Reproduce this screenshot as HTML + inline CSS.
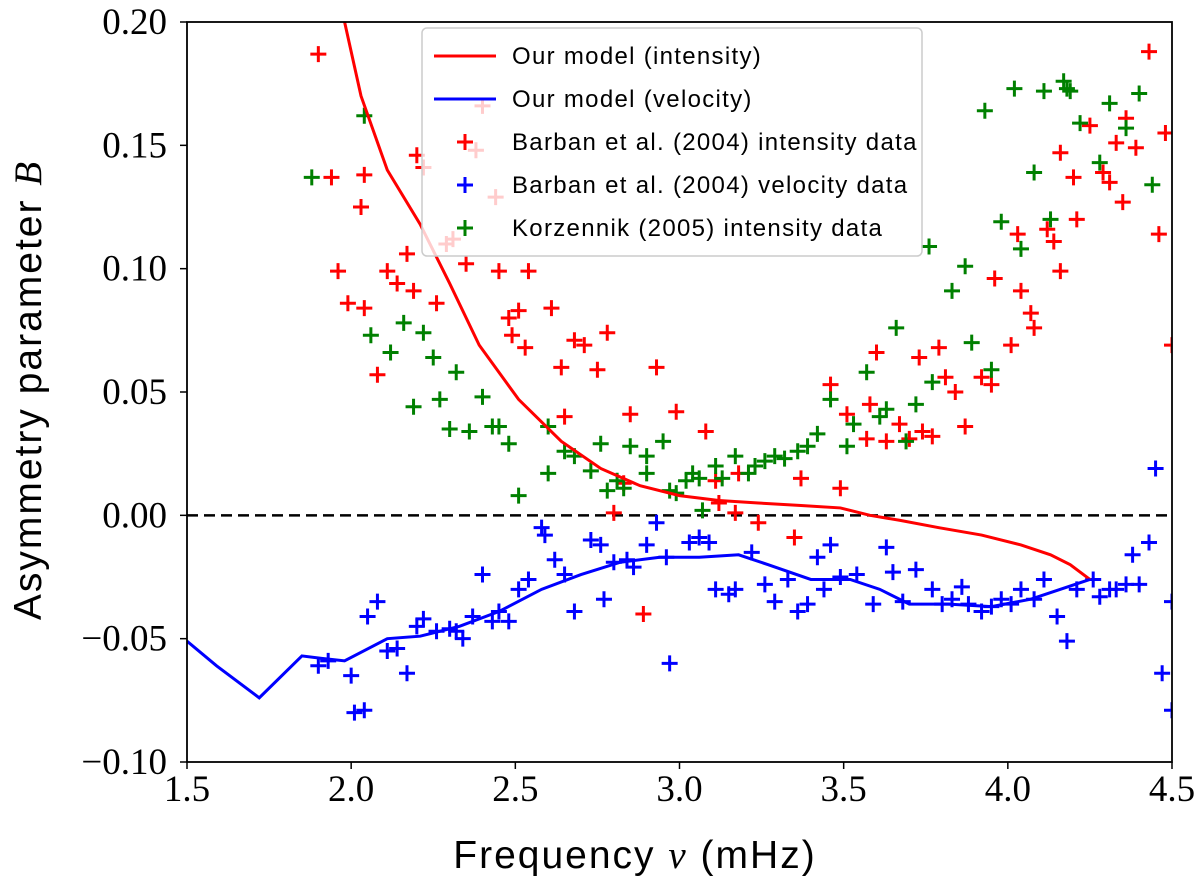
<!DOCTYPE html>
<html><head><meta charset="utf-8">
<style>
html,body{margin:0;padding:0;background:#fff;}
svg{display:block;}
text{font-family:"Liberation Serif",serif;}
.lg{font-family:"Liberation Sans",sans-serif;font-size:24px;letter-spacing:1.3px;}
.tt{font-family:"Liberation Sans",sans-serif;font-size:39px;letter-spacing:2px;}
.tt tspan{font-family:"Liberation Serif",serif;font-style:italic;}
</style></head>
<body>
<svg id="chart" width="1200" height="886" viewBox="0 0 1200 886">
<defs><clipPath id="clip"><rect x="187" y="22" width="985" height="740"/></clipPath></defs>
<g id="marks" clip-path="url(#clip)"></g>
<g id="axes"></g>
<g id="legend"></g>
</svg>
<script>
const xTicks=[1.5,2.0,2.5,3.0,3.5,4.0,4.5];
const xTickLabels=["1.5","2.0","2.5","3.0","3.5","4.0","4.5"];
const yTicks=[-0.10,-0.05,0,0.05,0.10,0.15,0.20];
const yTickLabels=["\u22120.10","\u22120.05","0.00","0.05","0.10","0.15","0.20"];
const redX=[1.90,1.94,1.96,1.99,2.03,2.04,2.04,2.08,2.11,2.14,2.17,2.19,2.20,2.22,2.26,2.29,2.31,2.35,2.38,2.40,2.44,2.45,2.48,2.49,2.51,2.53,2.54,2.61,2.64,2.65,2.68,2.71,2.75,2.78,2.80,2.83,2.85,2.93,2.89,2.99,3.08,3.11,3.12,3.17,3.18,3.24,3.35,3.37,3.46,3.49,3.51,3.57,3.58,3.60,3.63,3.67,3.70,3.73,3.74,3.77,3.79,3.81,3.84,3.87,3.92,3.95,3.96,4.01,4.03,4.04,4.07,4.08,4.12,4.14,4.16,4.16,4.20,4.21,4.25,4.29,4.31,4.33,4.35,4.36,4.39,4.43,4.46,4.48,4.50];
const redY=[0.187,0.137,0.099,0.086,0.125,0.138,0.084,0.057,0.099,0.094,0.106,0.091,0.146,0.141,0.086,0.110,0.112,0.102,0.148,0.166,0.129,0.099,0.080,0.073,0.083,0.068,0.099,0.084,0.060,0.040,0.071,0.069,0.059,0.074,0.001,0.013,0.041,0.060,-0.040,0.042,0.034,0.014,0.005,0.001,0.017,-0.003,-0.009,0.015,0.053,0.011,0.041,0.031,0.045,0.066,0.030,0.037,0.031,0.064,0.034,0.032,0.068,0.056,0.050,0.036,0.056,0.053,0.096,0.069,0.114,0.091,0.082,0.076,0.116,0.111,0.147,0.099,0.137,0.120,0.158,0.139,0.135,0.151,0.127,0.161,0.149,0.188,0.114,0.155,0.069];
const greenX=[1.88,2.04,2.06,2.12,2.16,2.19,2.22,2.25,2.27,2.30,2.32,2.36,2.40,2.43,2.45,2.48,2.51,2.60,2.60,2.65,2.68,2.73,2.76,2.78,2.81,2.83,2.85,2.90,2.90,2.95,2.97,2.99,3.02,3.04,3.06,3.07,3.11,3.13,3.17,3.21,3.23,3.26,3.29,3.32,3.36,3.39,3.42,3.46,3.51,3.53,3.57,3.61,3.63,3.66,3.69,3.72,3.76,3.77,3.83,3.87,3.89,3.93,3.95,3.98,4.02,4.04,4.08,4.11,4.13,4.17,4.18,4.19,4.22,4.28,4.31,4.36,4.40,4.44];
const greenY=[0.137,0.162,0.073,0.066,0.078,0.044,0.074,0.064,0.047,0.035,0.058,0.034,0.048,0.036,0.036,0.029,0.008,0.017,0.036,0.026,0.024,0.018,0.029,0.010,0.014,0.011,0.028,0.024,0.017,0.030,0.010,0.009,0.014,0.017,0.015,0.002,0.020,0.015,0.024,0.017,0.020,0.022,0.024,0.023,0.026,0.028,0.033,0.047,0.028,0.037,0.058,0.040,0.043,0.076,0.030,0.045,0.109,0.054,0.091,0.101,0.070,0.164,0.059,0.119,0.173,0.108,0.139,0.172,0.120,0.176,0.173,0.172,0.159,0.143,0.167,0.157,0.171,0.134];
const blueX=[1.90,1.93,2.00,2.01,2.04,2.05,2.08,2.11,2.14,2.17,2.20,2.22,2.26,2.30,2.32,2.34,2.37,2.40,2.43,2.45,2.48,2.51,2.54,2.58,2.59,2.62,2.65,2.68,2.73,2.76,2.77,2.80,2.84,2.86,2.90,2.93,2.96,2.97,3.03,3.06,3.09,3.11,3.15,3.17,3.22,3.26,3.29,3.33,3.36,3.39,3.42,3.44,3.46,3.49,3.54,3.59,3.63,3.65,3.68,3.72,3.77,3.80,3.83,3.86,3.88,3.92,3.95,3.98,4.01,4.04,4.08,4.11,4.15,4.18,4.21,4.26,4.28,4.31,4.33,4.36,4.38,4.40,4.43,4.45,4.47,4.50,4.50];
const blueY=[-0.061,-0.059,-0.065,-0.080,-0.079,-0.041,-0.035,-0.055,-0.054,-0.064,-0.045,-0.042,-0.047,-0.046,-0.047,-0.050,-0.041,-0.024,-0.043,-0.039,-0.043,-0.030,-0.026,-0.005,-0.008,-0.018,-0.024,-0.039,-0.010,-0.012,-0.034,-0.019,-0.018,-0.021,-0.012,-0.003,-0.017,-0.060,-0.011,-0.009,-0.011,-0.030,-0.032,-0.030,-0.015,-0.028,-0.035,-0.026,-0.039,-0.036,-0.017,-0.030,-0.012,-0.025,-0.024,-0.036,-0.013,-0.023,-0.035,-0.022,-0.030,-0.036,-0.034,-0.029,-0.036,-0.039,-0.037,-0.034,-0.036,-0.030,-0.034,-0.026,-0.041,-0.051,-0.030,-0.026,-0.033,-0.030,-0.030,-0.028,-0.016,-0.028,-0.011,0.019,-0.064,-0.035,-0.079];
const modelIntX=[1.98,2.03,2.11,2.21,2.30,2.39,2.51,2.64,2.76,2.88,3.00,3.12,3.24,3.37,3.49,3.58,3.67,3.79,3.92,4.04,4.13,4.19,4.25];
const modelIntY=[0.200,0.170,0.140,0.118,0.094,0.069,0.047,0.030,0.019,0.012,0.008,0.006,0.005,0.004,0.003,0.000,-0.002,-0.005,-0.008,-0.012,-0.016,-0.020,-0.026];
const modelVelX=[1.50,1.59,1.72,1.85,1.91,1.98,2.11,2.21,2.33,2.45,2.58,2.70,2.82,2.94,3.06,3.18,3.27,3.40,3.52,3.61,3.70,3.82,3.95,4.07,4.16,4.25];
const modelVelY=[-0.051,-0.061,-0.074,-0.057,-0.058,-0.059,-0.050,-0.049,-0.045,-0.039,-0.030,-0.024,-0.019,-0.017,-0.017,-0.016,-0.020,-0.026,-0.026,-0.030,-0.036,-0.036,-0.037,-0.034,-0.030,-0.026];

const X0=187,X1=1172,Y0=762,Y1=22;
const sx=v=>X0+(v-1.5)/3*(X1-X0);
const sy=v=>Y0-(v+0.10)/0.30*(Y0-Y1);
const NS="http://www.w3.org/2000/svg";
function mk(tag,attrs,parent){const e=document.createElementNS(NS,tag);for(const k in attrs)e.setAttribute(k,attrs[k]);parent.appendChild(e);return e;}
const marks=document.getElementById('marks'),axes=document.getElementById('axes'),legend=document.getElementById('legend');

const zl=mk('line',{x1:X0,x2:X1,y1:sy(0),y2:sy(0),stroke:'#000','stroke-width':2.5,'stroke-dasharray':'11,6'},marks);



function plus(x,y,color,parent){const d=`M${x-8},${y}H${x+8}M${x},${y-8}V${y+8}`;return mk('path',{d:d,stroke:color,'stroke-width':3,fill:'none'},parent);}
function series(xs,ys,color,name){const g=mk('g',{},marks);


xs.forEach((v,i)=>{const p=plus(sx(v),sy(ys[i]),color,g);

});}
series(redX,redY,'#ff0000','barban-intensity');
series(blueX,blueY,'#0000ff','barban-velocity');
series(greenX,greenY,'#008000','korzennik-intensity');
function line(xs,ys,color,name){const pts=xs.map((v,i)=>sx(v)+','+sy(ys[i])).join(' ');
const l=mk('polyline',{points:pts,fill:'none',stroke:color,'stroke-width':3},marks);

}
line(modelIntX,modelIntY,'#ff0000','model-intensity-line');
line(modelVelX,modelVelY,'#0000ff','model-velocity-line');

const fr=mk('rect',{x:X0,y:Y1,width:X1-X0,height:Y0-Y1,fill:'none',stroke:'#000','stroke-width':1.8},axes);


xTicks.forEach((v,i)=>{const x=sx(v);
const t=mk('line',{x1:x,x2:x,y1:Y0,y2:Y0+7,stroke:'#000','stroke-width':1.5},axes);


const tx=mk('text',{x:x,y:801,'text-anchor':'middle','font-size':37},axes);tx.textContent=xTickLabels[i];

});
yTicks.forEach((v,i)=>{const y=sy(v);
const t=mk('line',{x1:X0-7,x2:X0,y1:y,y2:y,stroke:'#000','stroke-width':1.5},axes);


const tx=mk('text',{x:167,y:y+12,'text-anchor':'end','font-size':37},axes);tx.textContent=yTickLabels[i];

});
const xl=mk('text',{x:635,y:868,'text-anchor':'middle',class:'tt'},axes);
xl.innerHTML='Frequency <tspan>ν</tspan> (mHz)';


const yl=mk('text',{x:0,y:0,'text-anchor':'middle',class:'tt',transform:'translate(41,390) rotate(-90)'},axes);
yl.innerHTML='Asymmetry parameter <tspan>B</tspan>';



const lb=mk('rect',{x:422,y:28,width:500,height:228,rx:5,fill:'rgba(255,255,255,0.8)',stroke:'#ccc','stroke-width':1.5},legend);


const entries=[['line','#ff0000','Our model (intensity)'],['line','#0000ff','Our model (velocity)'],['plus','#ff0000','Barban et al. (2004) intensity data'],['plus','#0000ff','Barban et al. (2004) velocity data'],['plus','#008000','Korzennik (2005) intensity data']];
entries.forEach((e,i)=>{const y=56+i*43;const g=mk('g',{},legend);


if(e[0]==='line')mk('line',{x1:434,x2:496,y1:y,y2:y,stroke:e[1],'stroke-width':3},g);else plus(465,y,e[1],g);
const t=mk('text',{x:512,y:y+8,class:'lg'},g);t.textContent=e[2];});
</script>
</body></html>
